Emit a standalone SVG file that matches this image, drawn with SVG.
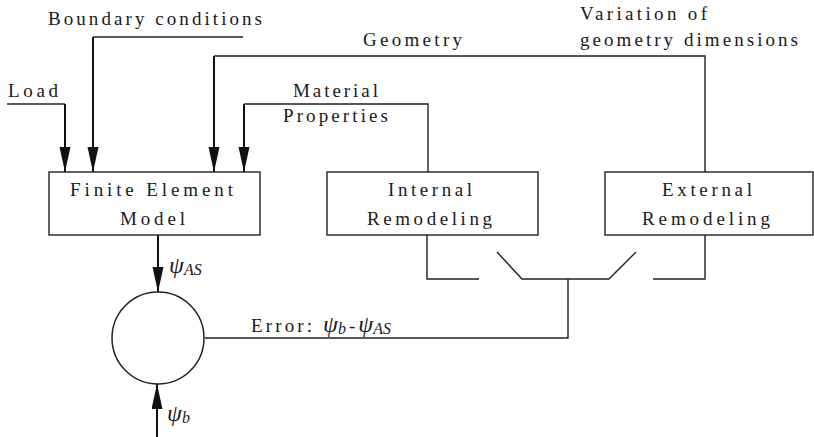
<svg xmlns="http://www.w3.org/2000/svg" width="814" height="437" viewBox="0 0 814 437" font-family="Liberation Serif, serif">
<defs>
<style>
.t{font-size:19px;fill:#1a1a1a}
.i{font-style:italic;fill:#1a1a1a}
.box{fill:#fff;stroke:#222;stroke-width:1.4}
.ln{fill:none;stroke:#222;stroke-width:1.4}
.ar{fill:none;stroke:#111;stroke-width:2}
</style>
<marker id="ah" markerUnits="userSpaceOnUse" markerWidth="26" markerHeight="12" refX="25" refY="5.5" orient="auto">
<path d="M0,0 L25,5.5 L0,11 z" fill="#111"/>
</marker>
</defs>
<rect width="814" height="437" fill="#fff"/>
<g id="connectors">
<polyline class="ln" points="7,104 65,104"/>
<line class="ar" x1="65" y1="104" x2="65" y2="172" marker-end="url(#ah)"/>
<polyline class="ln" points="243,37 93,37"/>
<line class="ar" x1="93" y1="37" x2="93" y2="172" marker-end="url(#ah)"/>
<polyline class="ln" points="705,172 705,56 214,56"/>
<line class="ar" x1="214" y1="56" x2="214" y2="172" marker-end="url(#ah)"/>
<polyline class="ln" points="428,172 428,104 244,104"/>
<line class="ar" x1="244" y1="104" x2="244" y2="172" marker-end="url(#ah)"/>
<line class="ar" x1="158" y1="235" x2="158" y2="292" marker-end="url(#ah)"/>
<line class="ar" x1="157" y1="437" x2="157" y2="384" marker-end="url(#ah)"/>
<polyline class="ln" points="205,338 568,338 568,279"/>
<polyline class="ln" points="427,235 427,279 479,279"/>
<polyline class="ln" points="497,252 522,279 609,279 636,252" stroke-width="2"/>
<polyline class="ln" points="653,279 705,279 705,235"/>
</g>
<g id="labels" font-family="Liberation Serif, serif">
<text class="t" x="48" y="25" textLength="214" lengthAdjust="spacing">Boundary conditions</text>
<text class="t" x="8" y="97" textLength="50" lengthAdjust="spacing">Load</text>
<text class="t" x="363" y="46" textLength="99" lengthAdjust="spacing">Geometry</text>
<text class="t" x="580" y="20" textLength="127" lengthAdjust="spacing">Variation of</text>
<text class="t" x="580" y="46" textLength="218" lengthAdjust="spacing">geometry dimensions</text>
<text class="t" x="293" y="97" textLength="85" lengthAdjust="spacing">Material</text>
<text class="t" x="283" y="122" textLength="105" lengthAdjust="spacing">Properties</text>
<text class="i" x="169" y="273" font-size="24">ψ<tspan font-size="16" dy="2">AS</tspan></text>
<text class="i" x="167" y="421" font-size="24">ψ<tspan font-size="16" dy="2">b</tspan></text>
<text class="t" x="251" y="332" textLength="61" lengthAdjust="spacing">Error:</text>
<text class="i" x="323" y="332" font-size="24">ψ<tspan font-size="16" dy="2">b</tspan><tspan font-style="normal" font-size="19" dy="-2" dx="3">-</tspan><tspan dx="3">ψ</tspan><tspan font-size="16" dy="2">AS</tspan></text>
</g>
<g id="fem" font-family="Liberation Serif, serif">
<rect class="box" x="49" y="172" width="211" height="63"/>
<text class="t" x="70" y="196" textLength="163" lengthAdjust="spacing">Finite Element</text>
<text class="t" x="120" y="225" textLength="65" lengthAdjust="spacing">Model</text>
</g>
<g id="sum">
<circle cx="158" cy="338" r="46" fill="none" stroke="#222" stroke-width="1.5"/>
</g>
<g id="internal" font-family="Liberation Serif, serif">
<rect class="box" x="327" y="172" width="211" height="63"/>
<text class="t" x="388" y="196" textLength="84" lengthAdjust="spacing">Internal</text>
<text class="t" x="367" y="225" textLength="125" lengthAdjust="spacing">Remodeling</text>
</g>
<g id="external" font-family="Liberation Serif, serif">
<rect class="box" x="605" y="172" width="208" height="63"/>
<text class="t" x="662" y="196" textLength="90" lengthAdjust="spacing">External</text>
<text class="t" x="642" y="225" textLength="128" lengthAdjust="spacing">Remodeling</text>
</g>
</svg>
